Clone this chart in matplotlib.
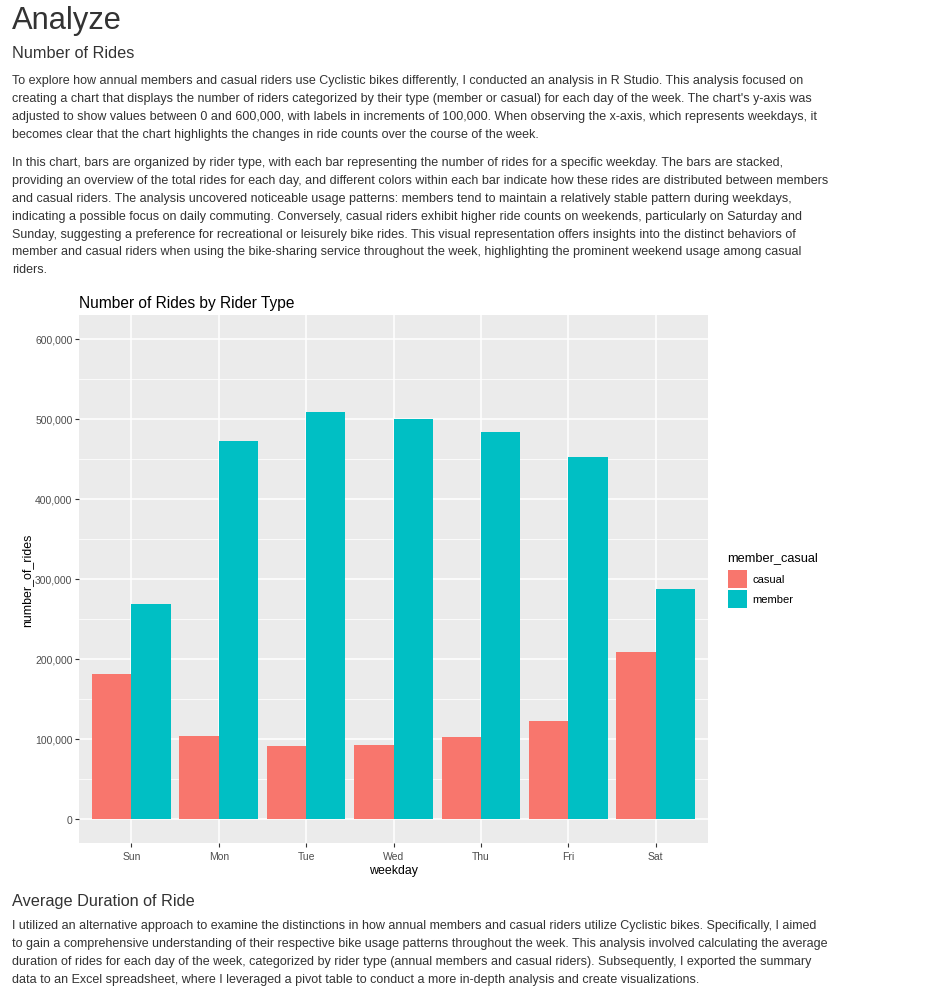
import numpy as np
import matplotlib.pyplot as plt
from matplotlib.patches import Patch
from matplotlib.ticker import FuncFormatter, MultipleLocator

# Step 1: Data
weekdays = ['Sun', 'Mon', 'Tue', 'Wed', 'Thu', 'Fri', 'Sat']
casual_rides = [181000, 104000, 91000, 92500, 102500, 123000, 209000]
member_rides = [269000, 472000, 509000, 500000, 484000, 452500, 287500]
rider_types = ['casual', 'member']
rider_colors = ['#F8766D', '#00BFC4']

# Page text
page_title = 'Analyze'
section_1 = 'Number of Rides'
para_1 = [
    "To explore how annual members and casual riders use Cyclistic bikes differently, I conducted an analysis in R Studio. This analysis focused on",
    "creating a chart that displays the number of riders categorized by their type (member or casual) for each day of the week. The chart's y-axis was",
    "adjusted to show values between 0 and 600,000, with labels in increments of 100,000. When observing the x-axis, which represents weekdays, it",
    "becomes clear that the chart highlights the changes in ride counts over the course of the week.",
]
para_2 = [
    "In this chart, bars are organized by rider type, with each bar representing the number of rides for a specific weekday. The bars are stacked,",
    "providing an overview of the total rides for each day, and different colors within each bar indicate how these rides are distributed between members",
    "and casual riders. The analysis uncovered noticeable usage patterns: members tend to maintain a relatively stable pattern during weekdays,",
    "indicating a possible focus on daily commuting. Conversely, casual riders exhibit higher ride counts on weekends, particularly on Saturday and",
    "Sunday, suggesting a preference for recreational or leisurely bike rides. This visual representation offers insights into the distinct behaviors of",
    "member and casual riders when using the bike-sharing service throughout the week, highlighting the prominent weekend usage among casual",
    "riders.",
]
section_2 = 'Average Duration of Ride'
para_3 = [
    "I utilized an alternative approach to examine the distinctions in how annual members and casual riders utilize Cyclistic bikes. Specifically, I aimed",
    "to gain a comprehensive understanding of their respective bike usage patterns throughout the week. This analysis involved calculating the average",
    "duration of rides for each day of the week, categorized by rider type (annual members and casual riders). Subsequently, I exported the summary",
    "data to an Excel spreadsheet, where I leveraged a pivot table to conduct a more in-depth analysis and create visualizations.",
]

plt.rcParams['font.family'] = ['Liberation Sans', 'DejaVu Sans']

W, H = 930, 995
fig = plt.figure(figsize=(W / 100, H / 100), dpi=100)
text_color = '#333333'


def put(x, y, s, size, color=text_color, va='baseline'):
    # place text by pixel position of its baseline
    fig.text(x / W, 1 - y / H, s, fontsize=size, color=color, va=va, ha='left')


# Step 2: Page text
put(12, 29, page_title, 22.2)
put(12, 58.3, section_1, 11.7)
for i, line in enumerate(para_1):
    put(12, 84.3 + 18 * i, line, 9.0)
for i, line in enumerate(para_2):
    put(12, 166 + 17.9 * i, line, 9.0)
put(12, 906, section_2, 11.7)
for i, line in enumerate(para_3):
    put(12, 929.3 + 18 * i, line, 9.0)

# Step 3: ggplot-like chart
ax = fig.add_axes([79 / W, 1 - 844 / H, 629 / W, 528 / H])
ax.set_facecolor('#EBEBEB')
x = np.arange(len(weekdays))
bw = 0.45
ax.bar(x - bw / 2, casual_rides, width=bw, color=rider_colors[0], zorder=3)
ax.bar(x + bw / 2, member_rides, width=bw, color=rider_colors[1], zorder=3)

ax.set_xlim(-0.6, len(weekdays) - 0.4)
ax.set_ylim(-30000, 630000)
ax.set_xticks(x)
ax.set_xticklabels(weekdays)
ax.yaxis.set_major_locator(MultipleLocator(100000))
ax.yaxis.set_minor_locator(MultipleLocator(50000))
ax.yaxis.set_major_formatter(FuncFormatter(lambda v, p: f'{int(v):,}'))
ax.grid(which='major', color='white', linewidth=1.1, zorder=0)
ax.grid(which='minor', axis='y', color='white', linewidth=0.55, zorder=0)
ax.set_axisbelow(True)
for s in ax.spines.values():
    s.set_visible(False)
ax.tick_params(which='major', length=2.7, width=0.8, color='#333333',
               labelcolor='#4D4D4D', labelsize=7.5, pad=2)
ax.tick_params(which='minor', length=0)
ax.tick_params(axis='x', pad=3)

ax.set_title('Number of Rides by Rider Type', loc='left', fontsize=11.2,
             color='black', pad=6)
ax.set_xlabel('weekday', fontsize=8.9, color='black')
ax.set_ylabel('number_of_rides', fontsize=8.9, color='black')
ax.xaxis.set_label_coords(0.5, -0.04)
ax.yaxis.set_label_coords(-0.073, 0.5)

# Step 4: Legend (title drawn separately so the gap matches ggplot)
put(727.5, 558, 'member_casual', 9.2, color='black', va='center')
handles = [Patch(facecolor=c, edgecolor='none') for c in rider_colors]
leg = ax.legend(handles, rider_types, loc='upper left',
                bbox_to_anchor=(727.5 / W, 1 - 570.5 / H), bbox_transform=fig.transFigure,
                frameon=False, fontsize=8,
                handlelength=1.71, handleheight=2.12, labelspacing=0.2,
                handletextpad=0.54, borderaxespad=0, borderpad=0)

plt.savefig('out.png', dpi=100)
plt.close(fig)
